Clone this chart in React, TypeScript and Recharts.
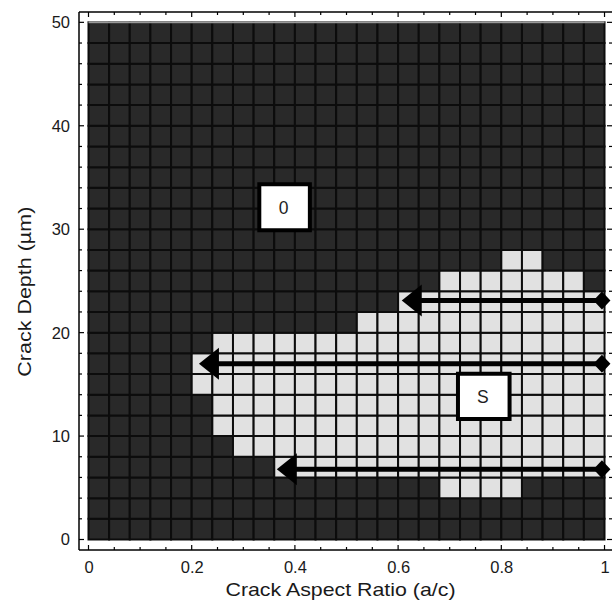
import React from 'react';
import { ComposedChart, XAxis, YAxis, ReferenceArea, ReferenceLine, Label, Scatter } from 'recharts';

// ---- axis ticks ----
const xTicks = [0, 0.05, 0.1, 0.15, 0.2, 0.25, 0.3, 0.35, 0.4, 0.45, 0.5, 0.55, 0.6, 0.65, 0.7, 0.75, 0.8, 0.85, 0.9, 0.95, 1];
const xMajor = [0, 0.2, 0.4, 0.6, 0.8, 1];
const xMajorLabels = ['0', '0.2', '0.4', '0.6', '0.8', '1'];
const yTicks = [0, 2, 4, 6, 8, 10, 12, 14, 16, 18, 20, 22, 24, 26, 28, 30, 32, 34, 36, 38, 40, 42, 44, 46, 48, 50];
const yMajor = [0, 10, 20, 30, 40, 50];
const yMajorLabels = ['0', '10', '20', '30', '40', '50'];

// ---- grid of cells (aspect ratio step 0.04, depth step 2 µm) ----
const aspectEdges = [0, 0.04, 0.08, 0.12, 0.16, 0.2, 0.24, 0.28, 0.32, 0.36, 0.4, 0.44, 0.48, 0.52, 0.56, 0.6, 0.64, 0.68, 0.72, 0.76, 0.8, 0.84, 0.88, 0.92, 0.96, 1];
const depthEdges = [0, 2, 4, 6, 8, 10, 12, 14, 16, 18, 20, 22, 24, 26, 28, 30, 32, 34, 36, 38, 40, 42, 44, 46, 48, 50];

// light ("S") region: for each depth row (bottom edge), aspect-ratio span
const lightRowBottom = [26, 24, 22, 20, 18, 16, 14, 12, 10, 8, 6, 4];
const lightFrom = [0.8, 0.68, 0.6, 0.52, 0.24, 0.2, 0.2, 0.24, 0.24, 0.28, 0.36, 0.68];
const lightTo = [0.88, 0.96, 1.0, 1.0, 1.0, 1.0, 1.0, 1.0, 1.0, 1.0, 1.0, 0.84];

// arrows (start at right diamond, end at arrow tip)
const arrowDepth = [23.1, 17.0, 6.8];
const arrowStart = [0.995, 0.995, 0.995];
const arrowTip = [0.607, 0.214, 0.365];

// region label boxes
const boxText = ['0', 'S'];
const boxX1 = [0.331, 0.716];
const boxX2 = [0.429, 0.816];
const boxY1 = [29.9, 11.65];
const boxY2 = [34.35, 16.03];

const FONT = '"Liberation Sans", Arial, Helvetica, sans-serif';
const DARK = '#292929';
const LIGHT = '#e1e1e1';
const LINE = '#0c0c0c';
const X_DOMAIN: [number, number] = [-0.0184, 1.0145];
const Y_DOMAIN: [number, number] = [-1.015, 51];

const near = (a: number, b: number) => Math.abs(a - b) < 1e-6;
const majorIdx = (arr: number[], v: number) => arr.findIndex((m) => near(m, v));

const isLight = (x0: number, y0: number) => {
  for (let i = 0; i < lightRowBottom.length; i++) {
    if (near(lightRowBottom[i], y0) && x0 >= lightFrom[i] - 1e-6 && x0 < lightTo[i] - 1e-6) return true;
  }
  return false;
};

const diamondData = arrowDepth.map((d, i) => ({ x: arrowStart[i], y: d }));
const tipData = arrowDepth.map((d, i) => ({ x: arrowTip[i], y: d }));

const BottomTick = (props: any) => {
  const { x, y, payload } = props;
  const k = majorIdx(xMajor, payload.value);
  const len = k >= 0 ? 5 : 3;
  return (
    <g>
      <line x1={x} y1={y} x2={x} y2={y - len} stroke="#000" strokeWidth={1.2} />
      {k >= 0 && (
        <text x={x + 0.5} y={y + 23.3} textAnchor="middle" fontSize={16.5} fill="#1a1a1a" fontFamily={FONT}>
          {xMajorLabels[k]}
        </text>
      )}
    </g>
  );
};

const TopTick = (props: any) => {
  const { x, y, payload } = props;
  const len = majorIdx(xMajor, payload.value) >= 0 ? 5 : 3;
  return <line x1={x} y1={y} x2={x} y2={y + len} stroke="#000" strokeWidth={1.2} />;
};

const LeftTick = (props: any) => {
  const { x, y, payload } = props;
  const k = majorIdx(yMajor, payload.value);
  const len = k >= 0 ? 5 : 3;
  return (
    <g>
      <line x1={x} y1={y} x2={x + len} y2={y} stroke="#000" strokeWidth={1.2} />
      {k >= 0 && (
        <text x={x - 9} y={y} dy="0.36em" textAnchor="end" fontSize={16.5} fill="#1a1a1a" fontFamily={FONT}>
          {yMajorLabels[k]}
        </text>
      )}
    </g>
  );
};

const RightTick = (props: any) => {
  const { x, y, payload } = props;
  const len = majorIdx(yMajor, payload.value) >= 0 ? 5 : 3;
  return <line x1={x} y1={y} x2={x - len} y2={y} stroke="#000" strokeWidth={1.2} />;
};

const XTitle = (props: any) => {
  const vb = props.viewBox || { x: 79, y: 550, width: 533, height: 50 };
  const cx = vb.x + vb.width / 2 - 5;
  const by = vb.y + 46;
  return (
    <text x={cx} y={by} textAnchor="middle" fontSize={19} fill="#1a1a1a" fontFamily={FONT} textLength={230} lengthAdjust="spacingAndGlyphs">
      Crack Aspect Ratio (a/c)
    </text>
  );
};

const YTitle = (props: any) => {
  const vb = props.viewBox || { x: 0, y: 12, width: 79, height: 538 };
  const cy = vb.y + vb.height / 2 + 10.7;
  const bx = vb.x + 30.7;
  return (
    <text x={bx} y={cy} transform={`rotate(-90, ${bx}, ${cy})`} textAnchor="middle" fontSize={19} fill="#1a1a1a" fontFamily={FONT} textLength={170} lengthAdjust="spacingAndGlyphs">
      Crack Depth (µm)
    </text>
  );
};

const BoxLabel = (props: any) => {
  const vb = props.viewBox || { x: 0, y: 0, width: 0, height: 0 };
  return (
    <text x={vb.x + vb.width / 2 - 1} y={vb.y + vb.height / 2} dy="0.36em" textAnchor="middle" fontSize={17.5} fill="#1e1e1e" fontFamily={FONT}>
      {props.value}
    </text>
  );
};

const ArrowLineShape = (props: any) => {
  const { x1, y1, x2, y2 } = props;
  const tip = Math.min(x1, x2);
  const end = Math.max(x1, x2);
  const y = (y1 + y2) / 2;
  return <line x1={tip + 18} y1={y} x2={end} y2={y} stroke="#000" strokeWidth={5} />;
};

const TipShape = (props: any) => {
  const { cx, cy } = props;
  return <polygon points={`${cx},${cy} ${cx + 20},${cy - 16} ${cx + 20},${cy + 16}`} fill="#000" />;
};

const DiamondShape = (props: any) => {
  const { cx, cy } = props;
  return <polygon points={`${cx - 8.5},${cy} ${cx},${cy - 9} ${cx + 8.5},${cy} ${cx},${cy + 9}`} fill="#000" />;
};

export default function App() {
  const cells: React.ReactNode[] = [];
  for (let r = 0; r < depthEdges.length - 1; r++) {
    for (let c = 0; c < aspectEdges.length - 1; c++) {
      const light = isLight(aspectEdges[c], depthEdges[r]);
      cells.push(
        <ReferenceArea
          key={`c-${r}-${c}`}
          xAxisId="x"
          yAxisId="y"
          x1={aspectEdges[c]}
          x2={aspectEdges[c + 1]}
          y1={depthEdges[r]}
          y2={depthEdges[r + 1]}
          fill={light ? LIGHT : DARK}
          fillOpacity={1}
          stroke={LINE}
          strokeWidth={2}
          strokeOpacity={1}
        />
      );
    }
  }

  return (
    <div style={{ position: 'absolute', left: 0, top: 0, background: '#fff' }}>
      <ComposedChart width={613} height={600} data={diamondData} margin={{ top: 11, right: 0, bottom: 0, left: 0 }}>
        <XAxis
          xAxisId="x"
          dataKey="x"
          type="number"
          orientation="bottom"
          domain={X_DOMAIN}
          allowDataOverflow
          ticks={xTicks}
          interval={0}
          tickSize={0}
          tickMargin={0}
          tickLine={false}
          tick={<BottomTick />}
          axisLine={{ stroke: '#000', strokeWidth: 1.5 }}
          height={50}
        >
          <Label content={<XTitle />} />
        </XAxis>
        <XAxis
          xAxisId="top"
          dataKey="x"
          type="number"
          orientation="top"
          domain={X_DOMAIN}
          allowDataOverflow
          ticks={xTicks}
          interval={0}
          tickSize={0}
          tickMargin={0}
          tickLine={false}
          tick={<TopTick />}
          axisLine={{ stroke: '#000', strokeWidth: 1.5 }}
          height={1}
        />
        <YAxis
          yAxisId="y"
          dataKey="y"
          type="number"
          orientation="left"
          domain={Y_DOMAIN}
          allowDataOverflow
          ticks={yTicks}
          interval={0}
          tickSize={0}
          tickMargin={0}
          tickLine={false}
          tick={<LeftTick />}
          axisLine={{ stroke: '#000', strokeWidth: 1.5 }}
          width={79}
        >
          <Label content={<YTitle />} />
        </YAxis>
        <YAxis
          yAxisId="right"
          dataKey="y"
          type="number"
          orientation="right"
          domain={Y_DOMAIN}
          allowDataOverflow
          ticks={yTicks}
          interval={0}
          tickSize={0}
          tickMargin={0}
          tickLine={false}
          tick={<RightTick />}
          axisLine={false}
          width={1}
        />
        {cells}
        <ReferenceLine
          xAxisId="x"
          yAxisId="y"
          segment={[{ x: aspectEdges[0], y: depthEdges[depthEdges.length - 1] }, { x: aspectEdges[aspectEdges.length - 1], y: depthEdges[depthEdges.length - 1] }]}
          stroke="#9a9a9a"
          strokeWidth={2}
        />
        {boxText.map((t, i) => (
          <ReferenceArea
            key={`box-${i}`}
            xAxisId="x"
            yAxisId="y"
            x1={boxX1[i]}
            x2={boxX2[i]}
            y1={boxY1[i]}
            y2={boxY2[i]}
            fill="#ffffff"
            fillOpacity={1}
            stroke="#000"
            strokeWidth={4}
            strokeOpacity={1}
          >
            <Label value={t} content={<BoxLabel value={t} />} />
          </ReferenceArea>
        ))}
        {arrowDepth.map((d, i) => (
          <ReferenceLine
            key={`arrow-${i}`}
            xAxisId="x"
            yAxisId="y"
            segment={[{ x: arrowStart[i], y: d }, { x: arrowTip[i], y: d }]}
            stroke="#000"
            strokeWidth={5}
            shape={ArrowLineShape}
          />
        ))}
        <Scatter
          xAxisId="x"
          yAxisId="y"
          data={diamondData}
          dataKey="y"
          isAnimationActive={false}
          shape={<DiamondShape />}
        />
        <Scatter
          xAxisId="top"
          yAxisId="right"
          data={tipData}
          dataKey="y"
          isAnimationActive={false}
          shape={<TipShape />}
        />
      </ComposedChart>
    </div>
  );
}
